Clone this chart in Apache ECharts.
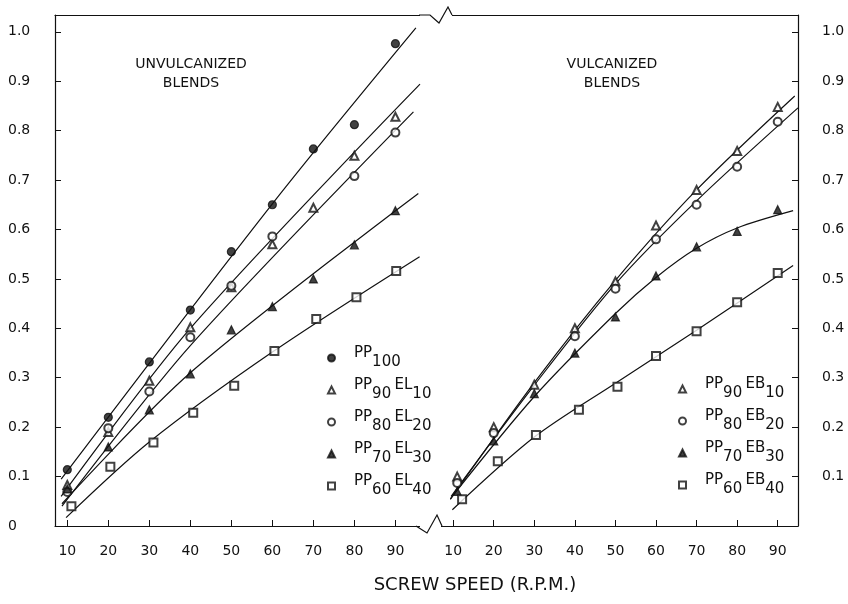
<!DOCTYPE html>
<html>
<head>
<meta charset="utf-8">
<script src="https://cdn.jsdelivr.net/npm/echarts@6/dist/echarts.min.js"></script>
<style>
  html, body { margin: 0; padding: 0; background: #fff; }
  #chart { width: 848px; height: 604px; }
</style>
</head>
<body>
<div id="chart"></div>
<script>
// tick labels
const xTicks = [10, 20, 30, 40, 50, 60, 70, 80, 90];
const yTicks = [0, 0.1, 0.2, 0.3, 0.4, 0.5, 0.6, 0.7, 0.8, 0.9, 1.0];

// unvulcanized blends (left panel)
const speedL = [10, 20, 30, 40, 50, 60, 70, 80, 90];
const speedSqL = [11, 20.5, 31, 40.7, 50.7, 60.5, 70.7, 80.5, 90.2];
const pp100 = [0.114, 0.22, 0.332, 0.437, 0.555, 0.65, 0.763, 0.812, 0.976];
const pp90el10 = [0.083, 0.19, 0.294, 0.402, 0.483, 0.57, 0.644, 0.749, 0.828];
const pp80el20 = [0.069, 0.198, 0.272, 0.382, 0.486, 0.586, null, 0.708, 0.796];
const pp70el30 = [0.075, 0.16, 0.235, 0.308, 0.397, 0.444, 0.50, 0.569, 0.638];
const pp60el40 = [0.04, 0.12, 0.169, 0.229, 0.284, 0.354, 0.419, 0.463, 0.516];

// fitted curves, left panel [speed, value]
const fitL100 = [[8.5, 0.095], [60, 0.652], [95, 1.008]];
const fitL90 = [[8.5, 0.06], [40, 0.40], [96, 0.894]];
const fitL80 = [[8.7, 0.04], [40, 0.365], [94.4, 0.838]];
const fitL70 = [[8.7, 0.045], [40, 0.31], [95.6, 0.673]];
const fitL60 = [[9.7, 0.017], [30, 0.17], [60, 0.352], [95.9, 0.545]];

// vulcanized blends (right panel)
const speedR = [11, 20, 30, 40, 50, 60, 70, 80, 90];
const speedSqR = [12.2, 21, 30.4, 41, 50.5, 60, 70, 80, 90];
const pp90eb10 = [0.10, 0.20, 0.286, 0.40, 0.495, 0.608, 0.68, 0.759, 0.848];
const pp80eb20 = [0.087, 0.188, null, 0.384, 0.48, 0.58, 0.65, 0.727, 0.818];
const pp70eb30 = [0.07, 0.172, 0.268, 0.35, 0.423, 0.506, 0.565, 0.596, 0.64];
const pp60eb40 = [0.054, 0.131, 0.184, 0.235, 0.282, 0.344, 0.394, 0.453, 0.512];

const fitR90 = [[9.3, 0.054], [30, 0.29], [50, 0.497], [70, 0.68], [94.2, 0.87]];
const fitR80 = [[9.5, 0.06], [30, 0.285], [50, 0.49], [70, 0.658], [95, 0.846]];
const fitR70 = [[9.3, 0.055], [30, 0.262], [50, 0.43], [60, 0.503], [70, 0.562], [80, 0.603], [93.8, 0.638]];
const fitR60 = [[9.8, 0.033], [30, 0.18], [50, 0.289], [70, 0.396], [93.8, 0.527]];

const INK = "#111";
const FONT = "DejaVu Sans";

function pairs(xs, ys) {
  const out = [];
  xs.forEach((x, i) => { if (ys[i] != null) out.push([x, ys[i]]); });
  return out;
}

function pts(name, xs, ys, symbol, idx) {
  return {
    name: name, type: "scatter", xAxisIndex: idx, yAxisIndex: idx,
    symbol: symbol, symbolSize: 8, z: 3,
    itemStyle: { color: INK, borderColor: INK, borderWidth: 1.2 },
    data: pairs(xs, ys),
  };
}

function fit(name, data, idx) {
  return {
    name: name, type: "line", xAxisIndex: idx, yAxisIndex: idx,
    smooth: 0.3, showSymbol: false, silent: true,
    lineStyle: { color: INK, width: 1.2 },
    data: data,
  };
}

function xAxisFor(gridIndex, min, max) {
  return {
    type: "value", gridIndex: gridIndex, min: min, max: max,
    axisLine: { lineStyle: { color: INK, width: 1.2 } },
    axisTick: { inside: true, length: 6, customValues: xTicks, lineStyle: { color: INK } },
    axisLabel: { customValues: xTicks, margin: 18, color: INK, fontFamily: FONT, fontSize: 14 },
    splitLine: { show: false },
  };
}

function topAxis(gridIndex, min, max) {
  return {
    type: "value", gridIndex: gridIndex, min: min, max: max, position: "top",
    axisLine: { lineStyle: { color: INK, width: 1.2 } },
    axisTick: { show: false }, axisLabel: { show: false }, splitLine: { show: false },
  };
}

function yAxisFor(gridIndex, pos, showZero) {
  const vals = showZero ? yTicks : yTicks.slice(1);
  return {
    type: "value", gridIndex: gridIndex, min: 0, max: 1.034, position: pos,
    axisLine: { show: true, lineStyle: { color: INK, width: 1.2 } },
    axisTick: { show: true, inside: true, length: 6, customValues: vals, lineStyle: { color: INK } },
    axisLabel: {
      customValues: vals,
      formatter: (v) => (v === 0 ? "0" : v.toFixed(1)),
      align: "left", margin: pos === "left" ? 47 : 24,
      color: INK, fontFamily: FONT, fontSize: 14,
    },
    splitLine: { show: false },
  };
}

const rich = {
  a: { fontSize: 15, fontFamily: FONT, color: INK, lineHeight: 24, verticalAlign: "top" },
  b: { fontSize: 15, fontFamily: FONT, color: INK, lineHeight: 24, verticalAlign: "bottom" },
};
const legendFmt = (name) => name.replace(/([A-Z]+)(\d+)/g, "{a|$1}{b|$2}");

const chart = echarts.init(document.getElementById("chart"), null, { renderer: "canvas" });

chart.setOption({
  backgroundColor: "#fff",
  animation: false,
  grid: [
    { left: 55, right: 428, top: 15, bottom: 78 },
    { left: 441, right: 50, top: 15, bottom: 78 },
  ],
  xAxis: [xAxisFor(0, 7, 96), xAxisFor(1, 7, 95), topAxis(0, 7, 96), topAxis(1, 7, 95)],
  yAxis: [yAxisFor(0, "left", true), yAxisFor(1, "right", false)],
  legend: [
    {
      orient: "vertical", left: 322, top: 341, itemGap: 8, itemWidth: 7, itemHeight: 7,
      align: "left", formatter: legendFmt, textStyle: { rich: rich, padding: [0, 0, 0, 14] },
      data: ["PP100", "PP90 EL10", "PP80 EL20", "PP70 EL30", "PP60 EL40"],
    },
    {
      orient: "vertical", left: 673, top: 372, itemGap: 8, itemWidth: 7, itemHeight: 7,
      align: "left", formatter: legendFmt, textStyle: { rich: rich, padding: [0, 0, 0, 14] },
      data: ["PP90 EB10", "PP80 EB20", "PP70 EB30", "PP60 EB40"],
    },
  ],
  graphic: [
    { type: "text", x: 191, y: 55, style: { text: "UNVULCANIZED\nBLENDS", align: "center", fill: INK, font: "14px " + FONT, lineHeight: 19 } },
    { type: "text", x: 612, y: 55, style: { text: "VULCANIZED\nBLENDS", align: "center", fill: INK, font: "14px " + FONT, lineHeight: 19 } },
    { type: "text", x: 475, y: 585, style: { text: "SCREW SPEED (R.P.M.)", align: "center", verticalAlign: "middle", fill: INK, font: "18px " + FONT } },
    { type: "rect", z: 50, shape: { x: 420, y: 12, width: 32, height: 6 }, style: { fill: "#fff" } },
    { type: "polyline", z: 51, shape: { points: [[419, 15], [430, 15], [439, 23], [448, 7], [452, 15]] }, style: { stroke: INK, lineWidth: 1.2, fill: null } },
    { type: "rect", z: 50, shape: { x: 420, y: 523, width: 21, height: 6 }, style: { fill: "#fff" } },
    { type: "polyline", z: 51, shape: { points: [[416, 526], [427, 533], [437, 515], [442, 526]] }, style: { stroke: INK, lineWidth: 1.2, fill: null } },
  ],
  series: [
    fit("fitL100", fitL100, 0), fit("fitL90", fitL90, 0), fit("fitL80", fitL80, 0),
    fit("fitL70", fitL70, 0), fit("fitL60", fitL60, 0),
    pts("PP100", speedL, pp100, "circle", 0),
    pts("PP90 EL10", speedL, pp90el10, "emptyTriangle", 0),
    pts("PP80 EL20", speedL, pp80el20, "emptyCircle", 0),
    pts("PP70 EL30", speedL, pp70el30, "triangle", 0),
    pts("PP60 EL40", speedSqL, pp60el40, "emptyRect", 0),
    fit("fitR90", fitR90, 1), fit("fitR80", fitR80, 1),
    fit("fitR70", fitR70, 1), fit("fitR60", fitR60, 1),
    pts("PP90 EB10", speedR, pp90eb10, "emptyTriangle", 1),
    pts("PP80 EB20", speedR, pp80eb20, "emptyCircle", 1),
    pts("PP70 EB30", speedR, pp70eb30, "triangle", 1),
    pts("PP60 EB40", speedSqR, pp60eb40, "emptyRect", 1),
  ],
});
</script>
</body>
</html>
